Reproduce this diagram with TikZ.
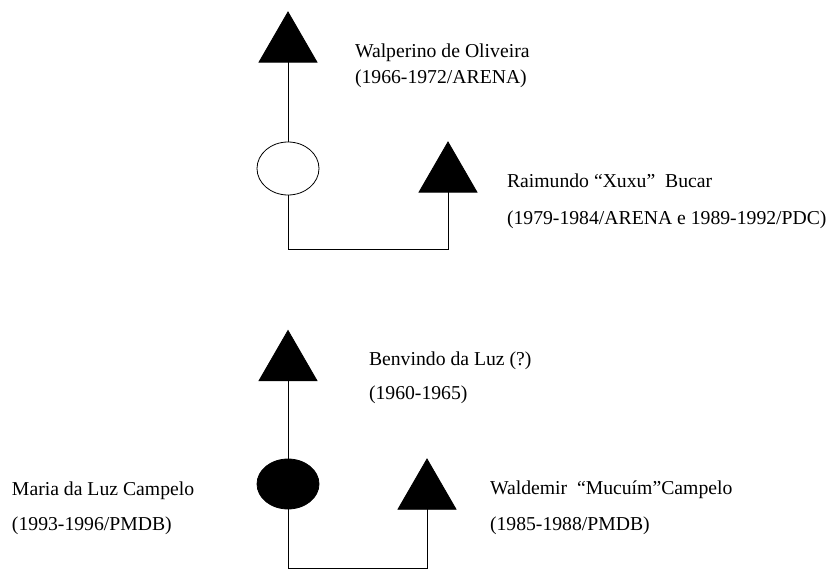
\documentclass[tikz,border=0pt]{standalone}
\usepackage{fontspec}
\setmainfont{Liberation Serif}
\usetikzlibrary{shapes.geometric}
\tikzset{
  male/.style={regular polygon, regular polygon sides=3, minimum size=67pt, inner sep=0pt, outer sep=0pt, draw=black, fill=black, line width=0.8pt},
  woman/.style={ellipse, minimum width=62pt, minimum height=#1, inner sep=0pt, outer sep=0pt, draw=black, line width=0.8pt},
  label/.style={anchor=base west, inner sep=0pt, outer sep=0pt, font=\fontsize{19.7}{24}\selectfont},
  link/.style={draw=black, line width=1pt}
}
\begin{document}
\begin{tikzpicture}[x=1pt, y=-1pt]
\useasboundingbox (0,0) rectangle (830,569);
% upper family
\node[male] (T1) at (288,45.5) {};
\node[woman=53pt, fill=white] (E1) at (288,168.5) {};
\node[male] (T2) at (448,175.5) {};
\draw[link] (T1.side 2) -- (E1.north);
\draw[link] (E1.south) -- ++(0,55) -| (T2.side 2);
\node[label] (L1a) at (355,58) {Walperino de Oliveira};
\node[label] (L1b) at (355,83.5) {(1966-1972/ARENA)};
\node[label] (L2a) at (507,188) {Raimundo “Xuxu”\ \ Bucar};
\node[label] (L2b) at (507,224.5) {(1979-1984/ARENA e 1989-1992/PDC)};
% lower family
\node[male] (T3) at (288,364) {};
\node[woman=50pt, fill=black] (E2) at (288,484) {};
\node[male] (T4) at (427,492.5) {};
\draw[link] (T3.side 2) -- (E2.north);
\draw[link] (E2.south) -- ++(0,59) -| (T4.side 2);
\node[label] (L3a) at (369,366) {Benvindo da Luz (?)};
\node[label] (L3b) at (369,399.5) {(1960-1965)};
\node[label] (L4a) at (12,495) {Maria da Luz Campelo};
\node[label] (L4b) at (12,530.5) {(1993-1996/PMDB)};
\node[label] (L5a) at (490,494) {Waldemir\ \ “Mucuím”Campelo};
\node[label] (L5b) at (490,530.5) {(1985-1988/PMDB)};
\end{tikzpicture}
\end{document}
